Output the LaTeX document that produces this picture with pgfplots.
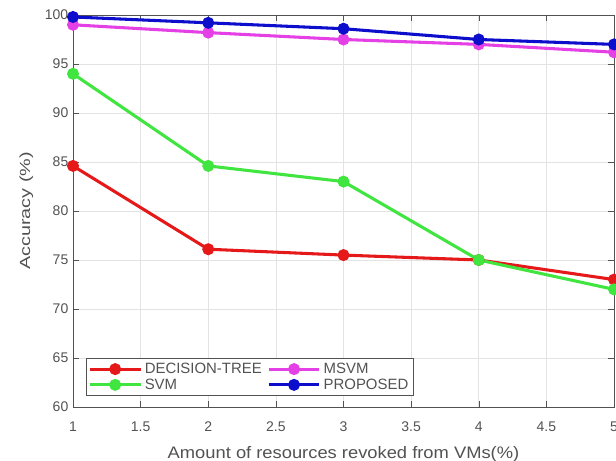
\documentclass[border=0pt]{standalone}
\usepackage{pgfplots}
\pgfplotsset{compat=1.18}
\usepackage{graphicx}
\usepackage{fontspec}
\setmainfont{Liberation Sans}
\definecolor{cdt}{rgb}{0.9,0.1,0.1}
\definecolor{csvm}{rgb}{0.25,0.9,0.25}
\definecolor{cmsvm}{rgb}{0.9,0.25,0.9}
\definecolor{cprop}{rgb}{0.05,0.05,0.8}
\definecolor{tk}{rgb}{0.32,0.32,0.32}
\begin{document}
\begin{tikzpicture}
\begin{axis}[
  scale only axis,
  width=405.75pt, height=294pt,
  xmin=1, xmax=5, ymin=60, ymax=100,
  xtick={1,1.5,...,5}, ytick={60,65,...,100},
  xticklabels={1,1.5,2,2.5,3,3.5,4,4.5,5},
  grid=major,
  major grid style={gray!22, line width=0.4pt},
  axis line style={tk},
  tick style={tk},
  tick align=inside,
  ticklabel style={font=\fontsize{10.5}{12}\selectfont, text=tk},
  xticklabel style={yshift=-7.5pt},
  /pgf/number format/assume math mode=true,
  xlabel={\scalebox{1.1}[1]{Amount of resources revoked from VMs(\%)}},
  ylabel={\scalebox{1.35}[1]{Accuracy (\%)}},
  xlabel style={font=\fontsize{12.5}{14}\selectfont, text=tk, yshift=-4pt},
  ylabel style={font=\fontsize{11}{13}\selectfont, text=tk, yshift=2pt},
  legend columns=2,
  legend style={at={(0.024,0.028)}, anchor=south west, font=\fontsize{11.2}{13}\selectfont, draw=tk, inner sep=1.5pt, row sep=-1.5pt, text=tk, /tikz/every even column/.append style={column sep=2pt}},
  legend cell align=left,
  legend image code/.code={\draw[#1, line width=2.4pt] (0pt,0pt) -- (38pt,0pt); \fill[#1] (19pt,0pt) circle (3.3pt);},
  every axis plot/.append style={line width=2.3pt, mark=*, mark size=3.3pt},
  clip=false,
]
\addplot[cdt, mark options={fill=cdt}] coordinates {(1,84.6) (2,76.1) (3,75.5) (4,75.0) (5,73.0)};
\addlegendentry{DECISION-TREE}
\addplot[cmsvm, mark options={fill=cmsvm}] coordinates {(1,99.0) (2,98.2) (3,97.5) (4,97.0) (5,96.2)};
\addlegendentry{MSVM}
\addplot[csvm, mark options={fill=csvm}] coordinates {(1,94.0) (2,84.6) (3,83.0) (4,75.0) (5,72.0)};
\addlegendentry{SVM}
\addplot[cprop, mark options={fill=cprop}] coordinates {(1,99.8) (2,99.2) (3,98.6) (4,97.5) (5,97.0)};
\addlegendentry{PROPOSED}
\end{axis}
\pgfresetboundingbox
\path[use as bounding box] ([xshift=-54.75pt,yshift=-40.5pt]current axis.south west) rectangle ([xshift=1.5pt,yshift=11.25pt]current axis.north east);
\end{tikzpicture}
\end{document}
